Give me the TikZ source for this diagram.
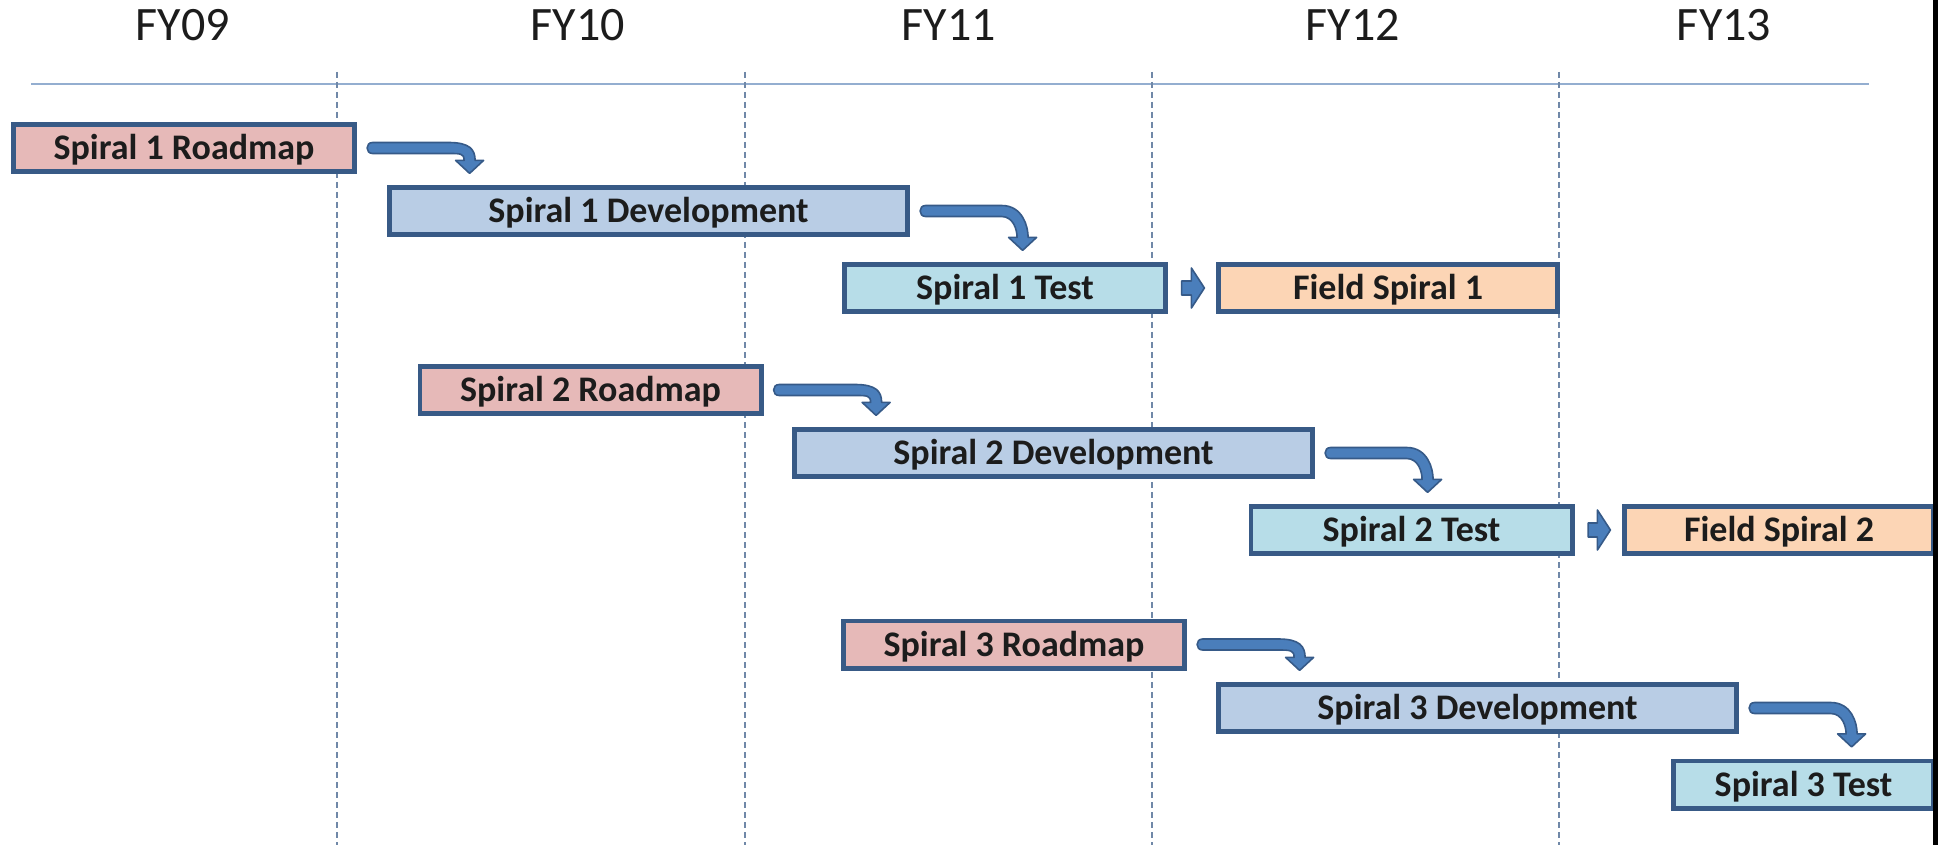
\documentclass[tikz,border=0pt]{standalone}
\usepackage{fontspec}
\setmainfont{Carlito}
\usetikzlibrary{calc}

\definecolor{edgeblue}{HTML}{385A86}
\definecolor{roadfill}{HTML}{E6B9B8}
\definecolor{devfill}{HTML}{B9CDE5}
\definecolor{testfill}{HTML}{B7DDE8}
\definecolor{fieldfill}{HTML}{FCD5B5}
\definecolor{arrowfill}{HTML}{4A7EBB}
\definecolor{arrowedge}{HTML}{365A88}
\definecolor{gridblue}{HTML}{7088A8}
\definecolor{ruleblue}{HTML}{94AED0}
\definecolor{ink}{HTML}{1C1C1C}

% curved "next phase" arrow leaving the right side of #1 and pointing down onto #2
\newcommand\bendarrow[2]{%
  \coordinate (S) at ($(#1.east)+(18,0)$);
  \coordinate (Sx) at ($(S)+(97,0)$);
  \coordinate (Ty) at ($(#2.north)+(0,-14)$);
  \coordinate (T) at (Sx |- Ty);
  \filldraw[flowarrow]
    ($(S)+(0,-5.5)$) -- ($(S)+(76,-5.5)$)
    .. controls ($(S)+(97,-5.5)$) and ($(T)+(5.5,-24)$) .. ($(T)+(5.5,-13)$)
    -- ($(T)+(14,-13)$) -- (T) -- ($(T)+(-14,-13)$) -- ($(T)+(-5.5,-13)$)
    .. controls ($(T)+(-5.5,-20)$) and ($(S)+(88,5.5)$) .. ($(S)+(76,5.5)$)
    -- ($(S)+(0,5.5)$)
    .. controls ($(S)+(-7.3,5.5)$) and ($(S)+(-7.3,-5.5)$) .. cycle;
}
% short block arrow from #1 to #2 on the same row
\newcommand\steparrow[2]{%
  \coordinate (S) at ($(#1.east)+(16,0)$);
  \coordinate (E) at ($(#2.west)+(-14,0)$);
  \filldraw[flowarrow]
    ($(S)+(0,-7)$) -- ($(E)+(-13,-7)$) -- ($(E)+(-13,-20)$) -- (E)
    -- ($(E)+(-13,20)$) -- ($(E)+(-13,7)$) -- ($(S)+(0,7)$) -- cycle;
}

\begin{document}
\begin{tikzpicture}[x=0.5pt,y=-0.5pt,
  yearlabel/.style={anchor=base, inner sep=0pt, text=ink,
    font=\fontsize{24}{24}\selectfont},
  taskbox/.style={draw=edgeblue, line width=2.4pt, minimum height=23.6pt,
    inner sep=0pt, outer sep=0pt, text=ink, text height=11.6pt, text depth=0pt,
    font=\bfseries\fontsize{18}{18}\selectfont},
  roadbox/.style={taskbox, fill=roadfill, minimum width=170.6pt},
  devbox/.style={taskbox, fill=devfill, minimum width=259.1pt},
  testbox/.style={taskbox, fill=testfill, minimum width=160.6pt},
  fieldbox/.style={taskbox, fill=fieldfill, minimum width=169.6pt},
  flowarrow/.style={fill=arrowfill, draw=arrowedge, line width=0.8pt, line join=round},
  yearrule/.style={draw=gridblue, line width=0.75pt, dash pattern=on 3pt off 2pt},
  toprule/.style={draw=ruleblue, line width=1pt}
]
\useasboundingbox (0,0) rectangle (1938,845);
\clip (0,0) rectangle (1938,845);
\fill[white] (0,0) rectangle (1938,845);

% fiscal-year headings and timeline
\node[yearlabel] (fy09) at (183,41) {FY09};
\node[yearlabel] (fy10) at (578,41) {FY10};
\node[yearlabel] (fy11) at (949,41) {FY11};
\node[yearlabel] (fy12) at (1353,41) {FY12};
\node[yearlabel] (fy13) at (1724,41) {FY13};
\draw[toprule] (31,84) -- (1869,84);
\foreach \x in {337,745,1152,1559}
  \draw[yearrule] (\x,72) -- (\x,845);

% spiral 1
\node[roadbox]  (r1) at (184,148)   {Spiral 1 Roadmap};
\node[devbox]   (d1) at (648.5,211) {Spiral 1 Development};
\node[testbox]  (t1) at (1005,288)  {Spiral 1 Test};
\node[fieldbox] (f1) at (1388,288)  {Field Spiral 1};

% spiral 2
\node[roadbox]  (r2) at (590.5,390) {Spiral 2 Roadmap};
\node[devbox]   (d2) at (1053.5,453){Spiral 2 Development};
\node[testbox]  (t2) at (1411.5,530){Spiral 2 Test};
\node[fieldbox, minimum width=154.6pt] (f2) at (1779,530) {Field Spiral 2};

% spiral 3
\node[roadbox]  (r3) at (1014,644.5){Spiral 3 Roadmap};
\node[devbox]   (d3) at (1477.5,708){Spiral 3 Development};
\node[testbox, minimum width=130.1pt] (t3) at (1803.5,784.5){Spiral 3 Test};

% hand-offs between phases
\bendarrow{r1}{d1}
\bendarrow{d1}{t1}
\steparrow{t1}{f1}
\bendarrow{r2}{d2}
\bendarrow{d2}{t2}
\steparrow{t2}{f2}
\bendarrow{r3}{d3}
\bendarrow{d3}{t3}

% dark edge along the right side
\fill[black] (1933,0) rectangle (1938,845);
\end{tikzpicture}
\end{document}
